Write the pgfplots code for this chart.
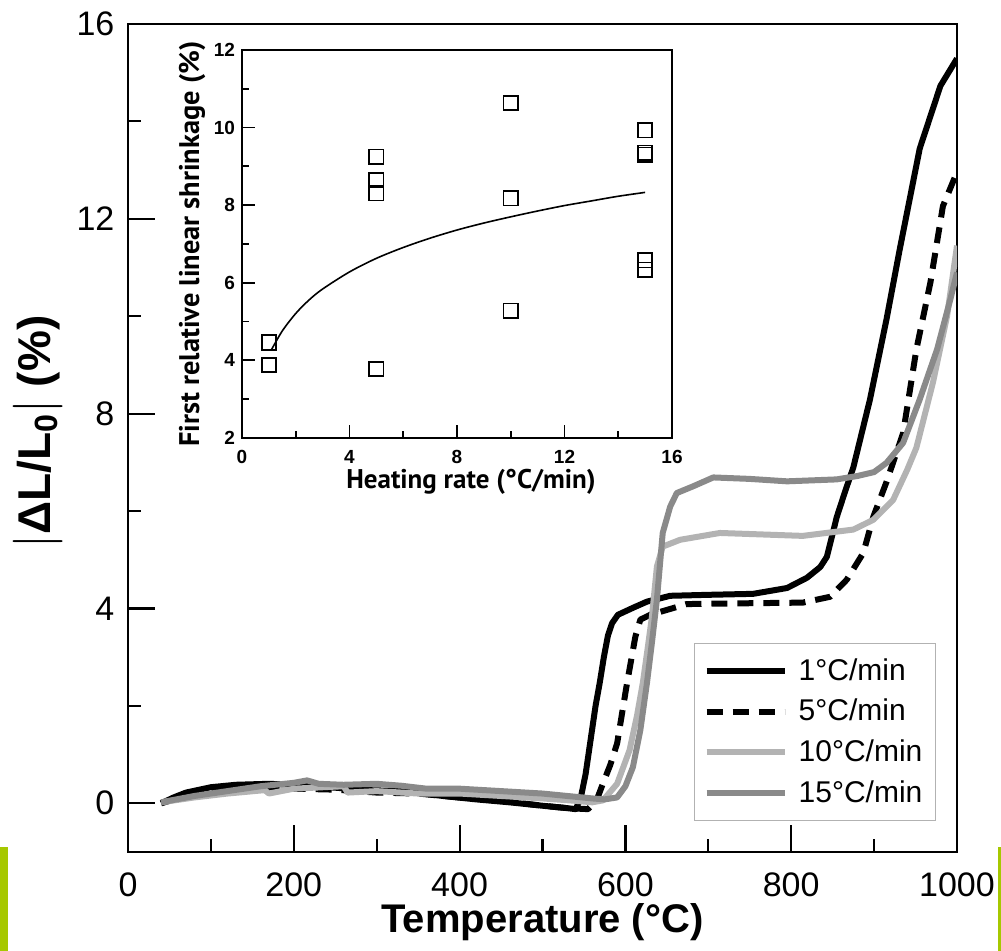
\documentclass[border=0pt]{standalone}
\usepackage{amsmath}
\usepackage{fontspec}
\setmainfont{Liberation Sans}
\newfontfamily\ptsans{PT Sans}
\usepackage{pgfplots}
\pgfplotsset{compat=1.18}

\definecolor{lgray}{HTML}{B3B3B3}
\definecolor{mgray}{HTML}{8A8A8A}
\definecolor{slidegreen}{RGB}{166,200,0}

\begin{document}
\begin{tikzpicture}
% page frame, same proportions as the reference
\path[use as bounding box] (-64pt,-49.5pt) rectangle (436.5pt,426pt);
\fill[slidegreen] (-64pt,-49.5pt) rectangle (-60pt,2.5pt);
\fill[slidegreen] (435pt,-49.5pt) rectangle (436.5pt,2.5pt);

\begin{axis}[
    name=main,
    scale only axis,
    width=414.5pt, height=414pt,
    xmin=0, xmax=1000, ymin=-1, ymax=16,
    xtick={0,200,...,1000}, ytick={0,4,...,16},
    minor x tick num=1, minor y tick num=1,
    tick align=inside, tick pos=left,
    major tick length=13.5pt, minor tick length=6.5pt,
    axis line style={line width=1.2pt},
    every tick/.style={black, line width=1.1pt},
    /pgf/number format/1000 sep={},
    /pgf/number format/assume math mode=true,
    ticklabel style={font=\fontsize{17}{20}\selectfont},
    xticklabel style={yshift=-7pt},
    yticklabel style={xshift=-3.3pt},
    xlabel={\textbf{Temperature (°C)}},
    ylabel={$\left|\text{\bfseries ΔL/L}_{\text{\bfseries 0}}\right|$\;\textbf{(\%)}},
    xlabel style={font=\fontsize{20}{24}\selectfont, at={(axis description cs:0.5,0)}, anchor=center, yshift=-35pt},
    % ylabel is rotated: its yshift moves it to the left, xshift moves it up
    ylabel style={font=\fontsize{23}{27}\selectfont, inner sep=1pt, at={(axis description cs:0,0.5)}, anchor=center, yshift=45pt, xshift=3pt},
    legend style={at={(1,0)}, anchor=south east, xshift=-10.5pt, yshift=15.5pt,
        draw=gray!60, line width=0.6pt, font=\fontsize{15}{18}\selectfont,
        row sep=4pt, inner xsep=4.5pt, inner ysep=5.5pt},
    legend cell align=left,
    legend image code/.code={\draw[#1] (0pt,0pt) -- (39pt,0pt); \path (42.5pt,0pt);},
    every axis plot/.append style={line width=3pt, line join=round},
]
% 1 C/min
\addplot[black] coordinates {
(40,0.0) (55,0.12) (70,0.22) (100,0.33) (130,0.38) (170,0.4) (200,0.38) (250,0.32)
(290,0.27) (330,0.25) (380,0.15) (420,0.08) (460,0.02) (500,-0.05) (530,-0.1) (540,-0.12)
(546,0.1) (552,0.6) (558,1.3) (564,2.0) (569,2.47) (574,3.0) (579,3.45) (584,3.7) (591,3.87)
(610,4.02) (626,4.14) (654,4.26) (700,4.28) (754,4.3) (795,4.42) (819,4.63) (835,4.85)
(843,5.06) (855,5.88) (865,6.4) (875,6.9) (895,8.29) (915,9.94) (931,11.38) (955,13.44)
(980,14.73) (1000,15.29)};
\addlegendentry{1°C/min}
% 5 C/min
\addplot[black, dash pattern=on 8pt off 5pt] coordinates {
(40,0.0) (60,0.1) (100,0.25) (150,0.3) (200,0.3) (250,0.28) (300,0.22) (350,0.2) (400,0.12)
(450,0.05) (500,-0.05) (530,-0.1) (555,-0.12) (565,0.05) (573,0.41) (582,0.8) (590,1.23)
(602,2.47) (612,3.42) (618,3.77) (630,3.87) (642,3.93) (674,4.09) (714,4.1) (814,4.12)
(847,4.24) (867,4.59) (887,5.14) (899,5.88) (915,6.6) (935,7.6) (951,9.32) (968,10.7)
(983,12.26) (1000,12.96)};
\addlegendentry{5°C/min}
% 10 C/min
\addplot[lgray] coordinates {
(40,0.02) (80,0.12) (120,0.2) (165,0.27) (170,0.2) (200,0.3) (260,0.35) (265,0.22) (300,0.25)
(350,0.2) (400,0.2) (450,0.15) (500,0.1) (540,0.05) (560,0.02) (573,0.06) (590,0.4)
(605,1.09) (614,1.8) (621,2.47) (627,3.2) (632,3.83) (638,4.86) (645,5.27) (666,5.41)
(714,5.55) (814,5.49) (875,5.62) (899,5.82) (923,6.23) (940,6.85) (951,7.3) (971,8.64)
(988,10.0) (1000,11.45)};
\addlegendentry{10°C/min}
% 15 C/min
\addplot[mgray] coordinates {
(40,0.02) (80,0.15) (120,0.25) (160,0.35) (200,0.42) (216,0.47) (230,0.4) (260,0.38)
(300,0.4) (330,0.36) (360,0.3) (400,0.3) (420,0.28) (450,0.25) (480,0.22) (500,0.2)
(530,0.15) (560,0.1) (575,0.08) (590,0.12) (600,0.35) (609,0.74) (618,1.5) (626,2.47)
(632,3.3) (638,4.18) (645,5.55) (654,6.09) (662,6.37) (682,6.51) (706,6.69) (750,6.66)
(795,6.61) (855,6.65) (880,6.72) (900,6.8) (915,6.99) (935,7.4) (955,8.29) (976,9.32)
(992,10.35) (1000,10.9)};
\addlegendentry{15°C/min}
\end{axis}

% inset
\begin{axis}[
    at={(57pt,207pt)}, anchor=south west,
    scale only axis,
    width=215pt, height=194pt,
    xmin=0, xmax=16, ymin=2, ymax=12,
    xtick={0,4,...,16}, ytick={2,4,...,12},
    minor x tick num=1, minor y tick num=1,
    tick align=inside, tick pos=left,
    major tick length=6.5pt, minor tick length=3.5pt,
    axis line style={line width=1pt},
    every tick/.style={black, line width=0.9pt},
    axis background/.style={fill=white},
    /pgf/number format/assume math mode=true,
    xticklabel={\textbf{\pgfmathprintnumber{\tick}}},
    yticklabel={\textbf{\pgfmathprintnumber{\tick}}},
    ticklabel style={font=\fontsize{9.5}{11}\selectfont},
    xticklabel style={yshift=-2.5pt},
    xlabel={Heating rate (°C/min)},
    ylabel={First relative linear shrinkage (\%)},
    xlabel style={font=\ptsans\bfseries\fontsize{13.5}{16}\selectfont,
        at={(axis description cs:0.5,0)}, anchor=center, yshift=-22pt, xshift=7pt},
    ylabel style={font=\ptsans\bfseries\fontsize{14.2}{17}\selectfont,
        at={(axis description cs:0,0.5)}, anchor=center, yshift=25pt, xshift=0pt},
]
\addplot[only marks, mark=square, mark size=3.6pt, mark options={line width=0.85pt}] coordinates {
(1,4.46) (1,3.88) (5,9.25) (5,8.65) (5,8.31) (5,3.78) (10,10.63) (10,8.18) (10,5.28)
(15,9.93) (15,9.35) (15,9.3) (15,6.58) (15,6.34)};
\addplot[black, line width=0.8pt, smooth] coordinates {
(1.1,4.28) (1.5,4.76) (2,5.21) (2.5,5.56) (3,5.84) (4,6.28) (5,6.63) (6,6.91) (7,7.15)
(8,7.36) (9,7.54) (10,7.70) (11,7.85) (12,7.99) (13,8.11) (14,8.23) (15,8.33)};
\end{axis}
\end{tikzpicture}
\end{document}
